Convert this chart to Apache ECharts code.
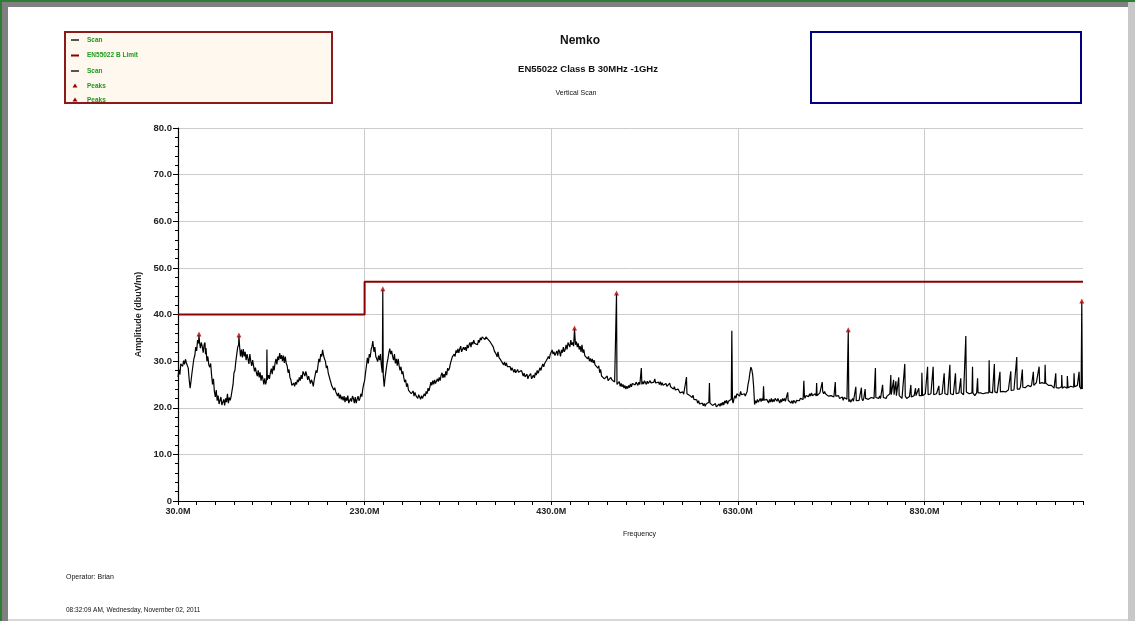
<!DOCTYPE html>
<html><head><meta charset="utf-8">
<script src="https://cdn.jsdelivr.net/npm/echarts@6/dist/echarts.min.js"></script>
<style>html,body{margin:0;padding:0;background:#fff}#c{width:1135px;height:621px}</style>
</head><body><div id="c"></div>
<script>
const FONT = "'Liberation Sans', Arial, sans-serif";
const scan = [
[30,26.6],[31,28.2],[32,27.1],[33,29.4],[34,29.8],[35,28.9],[36,30.1],[37,29.3],[38,30.4],[39,29.6],[40,30.0],[41,28.5],[42,26.0],[43,24.2],[44,25.8],[45,27.5],[46,29.0],[47,30.5],[48,31.2],[49,33.0],[50,32.2],[51,34.5],[52,33.8],[52.5,35.6],[53,34.2],[54,32.8],[55,34.0],[56,33.1],[57,31.8],[58,33.5],[58.9,34.0],[59.5,31.5],[60,32.8],[61,30.0],[62,31.0],[63,29.2],[64,28.7],[65,29.5],[66,27.0],[67,25.0],[68,26.2],[69,23.5],[70,22.3],[71,23.8],[72,21.5],[73,22.6],[74,20.8],[75,20.4],[76,22.3],[77,20.6],[78,20.2],[79,21.8],[80,20.5],[81,22.0],[82,21.2],[83,23.0],[84,21.0],[85,22.2],[86,21.6],[87,22.5],[88,23.8],[89,25.0],[90,27.5],[91,28.0],[92,30.0],[93,31.5],[94,33.0],[95,33.5],[95.3,35.4],[96,33.2],[97,31.0],[98,32.5],[99,30.8],[100,32.6],[101,31.0],[102,32.0],[103,30.2],[104,31.5],[105,30.5],[106,29.4],[107,31.5],[108,30.0],[109,29.0],[110,30.2],[111,29.0],[112,27.8],[113,28.6],[114,27.5],[115,26.8],[116,28.0],[117,26.5],[118,27.6],[119,25.8],[120,27.0],[121,26.2],[122,25.0],[123,26.3],[124,25.0],[125,26.0],[125.3,32.5],[125.7,26.0],[127,27.0],[128,26.2],[129,27.5],[130,28.4],[131,27.2],[132,29.0],[133,28.0],[134,29.5],[135,30.5],[136,29.3],[137,31.0],[138,30.2],[139,31.7],[140,30.5],[141,31.3],[142,30.0],[143,31.2],[144,29.6],[145,31.0],[146,29.5],[147,29.0],[148,27.5],[149,28.2],[150,26.5],[151,26.0],[152,24.8],[153,24.5],[154,25.3],[155,24.6],[156,25.5],[157,25.0],[158,26.0],[159,25.5],[160,26.5],[161,25.8],[162,27.0],[163,26.2],[164,27.8],[165,27.5],[166,26.8],[167,27.8],[168,27.0],[169,26.0],[170,26.8],[171,26.0],[172,25.2],[173,26.0],[174,25.5],[175,24.6],[176,26.0],[177,27.0],[178,28.0],[179,27.5],[180,29.0],[181,30.5],[182,29.8],[183,31.5],[184,31.0],[185,32.4],[186,31.2],[187,30.5],[188,30.0],[189,28.5],[190,29.0],[191,27.5],[192,27.5],[193,26.0],[194,25.8],[195,24.6],[196,25.0],[197,23.8],[198,24.3],[199,23.5],[200,23.0],[201,22.5],[202,23.2],[203,22.0],[204,22.8],[205,21.8],[206,22.4],[207,21.6],[208,22.5],[209,21.2],[210,22.2],[211,21.5],[212,22.6],[213,21.0],[214,20.9],[215,22.0],[216,21.3],[217,22.5],[218,22.0],[219,21.0],[220,22.3],[221,21.0],[222,21.8],[223,22.5],[224,21.5],[225,22.0],[226,23.0],[227,22.4],[228,24.0],[229,25.0],[230,25.8],
[231,27.5],[232,29.0],[233,30.7],[234,29.5],[235,31.5],[236,30.8],[237,32.5],[238,33.2],[238.8,34.3],[240,32.0],[241,33.0],[242,31.0],[243,30.5],[244,29.9],[245,31.2],[246,30.2],[247,31.5],[248,29.0],[249,27.5],[249.5,45.3],[250,27.0],[251,24.5],[252,26.5],[253,28.0],[254,29.5],[255,30.5],[256,31.8],[257,32.7],[258,31.5],[259,32.2],[260,31.0],[261,30.2],[262,31.5],[263,29.5],[264,30.5],[265,29.0],[266,30.5],[267,29.0],[268,28.0],[269,28.8],[270,27.2],[271,27.8],[272,26.5],[273,25.5],[274,26.0],[275,24.5],[276,25.2],[277,23.8],[278,23.5],[279,24.2],[280,23.0],[281,22.8],[282,23.6],[283,22.5],[284,23.3],[285,22.6],[286,23.0],[287,22.0],[288,22.8],[289,22.3],[290,21.8],[291,22.6],[292,22.0],[293,22.0],[294,23.0],[295,22.5],[296,23.5],[297,23.0],[298,24.2],[299,23.6],[300,24.5],[301,25.5],[302,24.8],[303,25.8],[304,25.0],[305,26.0],[306,25.2],[307,25.0],[308,26.2],[309,25.6],[310,26.5],[311,25.8],[312,27.0],[313,27.5],[314,26.4],[315,27.2],[316,26.5],[317,27.8],[318,27.0],[319,28.5],[320,28.0],[321,28.5],[322,29.5],[323,30.2],[324,30.9],[325,30.5],[326,31.5],[327,31.0],[328,32.3],[329,31.8],[330,32.6],[331,31.8],[332,32.6],[333,33.2],[334,32.0],[335,32.0],[336,33.0],[337,32.4],[338,33.0],[339,32.2],[340,33.5],[341,32.8],[342,33.5],[343,34.0],[344,33.0],[345,34.1],[346,33.6],[347,34.5],[348,33.8],[349,33.5],[350,34.2],[351,33.5],[352,34.5],[353,34.0],[354,35.0],[355,34.5],[356,35.2],[357,35.0],[358,35.3],[359,34.6],[360,35.2],[361,35.6],[362,35.0],[363,34.5],[364,34.8],[365,34.0],[366,33.6],[367,33.7],[368,33.0],[369,32.2],[370,32.5],[371,31.5],[372,30.9],[373,32.0],[374,30.8],[375,30.9],[376,30.2],[377,30.5],[378,30.0],[379,29.2],[380,29.8],[381,29.0],[382,29.6],[383,28.8],[384,29.2],[385,28.5],[386,28.8],[387,28.0],[388,28.6],[389,28.2],[390,27.6],[391,28.3],[392,27.5],[393,27.5],[394,28.2],[395,27.6],[396,28.0],[397,27.2],[398,28.0],[399,27.5],[400,26.8],[401,27.4],[402,26.6],[403,26.5],[404,27.2],[405,26.2],[406,26.8],[407,26.5],[408,27.3],[409,26.2],[410,26.6],[411,27.0],[412,26.4],[413,27.5],[414,27.0],[415,28.0],[416,27.4],[417,28.0],[418,28.6],[419,28.0],[420,28.8],[421,29.4],[422,28.8],[423,29.5],[424,29.5],[425,30.2],[426,30.2],[427,31.0],[428,30.5],[429,31.5],[430,31.2],[431,32.4],[432,31.5],[433,32.0],[434,31.2],[435,31.5],[436,32.2],[437,31.2],[438,32.5],[439,32.0],[440,31.0],[441,32.4],[442,31.8],[443,33.0],[444,32.0],[445,32.5],[446,33.5],[447,32.5],[448,34.0],[449,33.7],[450,33.0],[451,34.5],[452,33.5],[453,34.0],[454,33.2],[455,36.9],[456,33.5],[457,34.2],[458,33.0],[459,33.8],[460,32.5],[461,33.2],[462,32.0],[463,33.5],[464,31.8],[465,32.5],[466,31.2],[467,30.9],[468,31.5],[469,30.5],[470,31.0],[471,30.0],[472,30.6],[473,29.8],[474,30.5],[475,29.6],[476,30.2],[477,29.2],[478,29.6],[479,28.8],[480,28.5],[481,29.0],[482,27.5],[483,28.2],[484,26.8],[485,26.6],[486,27.2],[487,26.2],[488,26.6],[489,26.0],[490,26.8],[491,25.8],[492,26.2],[493,25.8],[494,26.5],[495,26.0],[496,25.6],[497,26.2],[498,25.5],[499.5,25.5],[500,44.4],[500.5,25.0],
[502,24.9],[503,25.6],[504,24.6],[505,25.2],[506,24.5],[507,25.0],[508,24.2],[509,24.8],[510,24.0],[511,24.6],[512,24.1],[513,24.8],[514,24.3],[515,25.1],[516,24.5],[517,25.2],[518,24.8],[519,25.6],[520,24.9],[521,25.5],[522,25.2],[523,24.8],[524,25.5],[525,25.0],[526,25.4],[526.6,28.5],[527.2,25.0],[528,25.6],[529,25.1],[530,25.8],[531,25.4],[532,25.0],[533,25.7],[534,25.2],[535,25.0],[536,25.8],[537,25.3],[538,25.6],[539,25.0],[540,25.5],[541,26.2],[542,25.3],[543,25.7],[544,25.0],[545,25.5],[546,25.0],[547,25.6],[548,24.8],[549,25.4],[550,24.8],[551,25.0],[552,24.4],[553,25.2],[554,24.6],[555,25.0],[556,24.5],[557,25.3],[558,24.5],[559,24.8],[560,24.3],[561,24.0],[562,24.5],[563,23.8],[564,24.2],[565,23.6],[566,24.0],[567,23.6],[568,23.2],[569,23.6],[570,23.0],[571,23.4],[572,22.9],[573,23.0],[574,22.8],[575,26.6],[575.5,23.0],[576,22.6],[577,23.0],[578,22.7],[579,22.4],[580,22.9],[581,22.2],[582,22.7],[583,21.8],[584,22.2],[585,21.5],[586,21.7],[587,21.0],[588,21.5],[589,20.8],[590,21.2],[591,20.5],[592,21.0],[593,20.4],[594,20.9],[595,20.3],[596,20.8],[597,20.5],[598,21.0],[599,21.2],[599.6,25.3],[600.2,21.0],[601,20.6],[602,21.2],[603,20.5],[604,20.8],[605,20.2],[606,20.9],[607,20.2],[608,19.8],[609,20.6],[610,20.8],[611,20.3],[612,21.0],[613,20.5],[614,21.2],[615,20.6],[616,21.5],[617,21.0],[618,21.6],[619,20.8],[620,21.4],[621,21.0],[622,21.5],[623,21.8],[623.6,36.5],[624.3,21.5],[625,21.0],[626,22.0],[627,22.6],[628,22.0],[629,23.0],[630,22.6],[631,23.2],[632,22.5],[633,23.5],[634,22.8],[635,23.2],[636,22.5],[637,23.0],[638,22.5],[639,23.0],[640,23.5],[641,25.0],[642,26.0],[643,27.5],[644,28.7],[645,28.2],[646,27.0],[647,24.5],[648,20.7],[649,21.5],[650,21.0],[651,21.8],[652,21.2],[653,21.5],[654,22.0],[655,21.3],[656,22.0],[657,21.5],[657.6,24.6],[658.2,21.6],[659,22.0],[660,21.2],[661,21.8],[662,21.4],[663,21.0],[664,21.8],[665,21.2],[666,22.0],[667,21.2],[668,21.8],[669,21.3],[670,22.0],[671,21.8],[672,21.4],[673,22.0],[674,21.5],[675,21.0],[676,21.8],[677,21.2],[678,22.0],[679,21.5],[680,22.0],[681,21.4],[682,21.8],[683,21.5],[683.5,23.3],[684,21.6],[685,21.2],[686,21.8],[687,21.0],[688,21.5],[689,20.9],[690,21.6],[691,21.2],[692,21.0],[693,21.6],[694,21.2],[695,21.8],[696,21.5],[697,22.0],[698,21.6],[699,22.2],[700,21.8],[700.8,25.8],[701.4,22.5],[702,22.0],[703,22.6],[704,22.2],[705,23.0],[706,22.4],[707,23.0],[708,22.5],[709,23.2],[710,22.6],[711,23.0],[712,22.4],[713,23.0],[714,22.5],[714.5,25.3],[715,22.6],[716,23.0],[717,22.4],[718,23.2],[719,22.8],[720,23.5],[720.5,25.5],[721,23.5],[722,23.0],[723,23.5],[724,23.0],[725,22.6],[726,23.2],[727,22.5],[728,22.8],[729,22.2],[730,22.6],[731,22.5],[732,23.0],[733,22.3],[734,22.6],[734.5,25.5],[735,22.5],[736,22.8],[737,22.2],[738,22.6],[739,22.0],[740,22.4],[741,21.8],[742,22.3],[743,21.6],[744,22.2],[745,22.0],[746,22.5],[747,21.8],[748.4,36.5],[749,21.3],[750,21.8],[751,21.2],[752,21.6],[753,22.0],[754,21.4],[755,21.6],[756,21.2],[756.5,24.5],[757,21.5],[758,21.8],[759,21.2],[760,21.6],[761,22.0],[762,21.8],[762.5,24.3],[763,22.0],[764,21.5],[765,22.0],[766,21.8],[766.5,24.0],[767,22.0],[768,21.6],[769,22.2],[770,21.8],[771,22.0],[772,21.6],[773,22.2],[774,22.0],[775,22.3],[776,22.0],[777,22.0],[777.5,28.5],[778,22.2],[779,21.8],[780,22.4],[781,22.0],[782,22.5],[783,22.0],[784,22.4],[785,22.1],[785.2,24.9],[786,22.2],[787,21.8],[788,22.3],[789,22.0],[790,22.5],[791,22.2],[792,22.6],[793,23.0],[794,27.0],[794.5,22.8],[795,22.6],[796,23.0],[797,26.0],[797.5,22.8],[798,23.0],[799,22.5],[799.5,25.7],[800,22.6],[801,23.0],[802,22.5],[802.5,26.5],[803,22.6],[804,22.2],[805,22.5],[806,22.0],[807,22.4],[808,22.3],[809,29.4],[809.5,22.5],[810,22.3],[811,22.0],[812,22.4],[813,22.0],[814,22.4],[815,22.0],[815.5,24.9],[816,22.3],[817,22.6],[818,22.2],[819,22.6],[820,22.8],[820.5,24.2],[821,22.6],[822,22.8],[823,22.6],[824,24.2],[824.5,22.6],[825,22.8],[826,22.5],[827,22.6],[827.3,27.5],[828,22.6],[829,22.8],[830,22.5],[831,23.0],[832,22.6],[833,22.8],[833.4,28.8],[834,22.8],[835,23.0],[836,22.6],[837,23.0],[838,22.6],[839,22.8],[839.4,28.8],[840,22.8],[841,23.0],[842,22.6],[843,23.0],[844,22.8],[845,23.0],[845.5,24.7],[846,22.8],[847,23.0],[848,22.7],[849,23.0],[850,22.8],[851,23.0],[851.2,27.4],[852,23.0],[853,22.7],[854,23.2],[855,22.8],[856,23.0],[857,22.9],[857.3,29.2],[858,23.0],[859,22.6],[860,23.2],[861,22.8],[862,23.0],[863,23.2],[863.3,27.4],[864,23.0],[865,23.3],[866,22.8],[867,23.2],[868,22.8],[869,26.3],[869.5,23.2],[870,23.0],[871,23.4],[872,22.8],[873,23.2],[874,23.0],[874.4,35.4],[875,23.4],[876,23.0],[877,23.5],[878,23.0],[879,22.8],[880,23.0],[881,23.2],[881.6,28.8],[882,23.2],[883,23.0],[884,22.6],[885,23.0],[886,23.2],[887,26.3],[887.5,23.2],[888,23.0],[889,22.8],[890,23.2],[891,23.0],[892,23.4],[893,23.0],[894,23.2],[895,22.8],[896,23.2],[897,23.0],[898,23.3],[899,23.2],[899.4,30.2],[900,23.4],[901,23.1],[902,23.5],[903,23.2],[904,23.6],[905,29.4],[905.5,23.4],[906,23.2],[907,23.6],[908,23.2],[909,23.6],[910,23.3],[911,27.7],[911.5,23.4],[912,23.6],[913,23.2],[914,23.5],[915,23.3],[916,23.8],[917,23.4],[918,23.6],[919,23.4],[920,23.8],[921,23.5],[922,23.8],[922.6,27.8],[923,23.7],[924,23.6],[925,24.0],[926,23.8],[927,24.2],[928,23.8],[929,30.9],[929.5,24.0],[930,23.8],[931,24.3],[932,24.0],[933,24.5],[934,24.2],[935,28.2],[935.5,24.4],[936,24.2],[937,24.6],[938,24.3],[939,24.5],[940,24.3],[941,24.8],[942,24.4],[943,24.8],[944,24.5],[945,25.0],[946,24.6],[946.8,27.7],[947.3,24.8],[948,25.2],[949,25.0],[950,25.4],[951,25.0],[952,25.3],[953,28.8],[953.5,25.2],[954,25.4],[955,25.0],[956,25.4],[957,25.2],[958,25.5],[959,25.2],[959.4,29.2],[960,25.3],[961,25.0],[962,25.4],[963,24.8],[964,25.0],[965,24.6],[966,24.8],[967,24.4],[968,24.8],[969,24.2],[970,24.6],[970.8,27.4],[971.3,24.3],[972,24.0],[973,24.5],[974,24.2],[975,24.6],[976,24.2],[977,24.5],[977.2,27.0],[977.8,24.2],[978,24.4],[979,24.0],[980,24.5],[981,24.2],[982,24.5],[983,24.2],[983.2,26.8],[984,24.3],[985,24.6],[986,24.2],[987,24.6],[988,24.4],[989,24.8],[990,24.4],[990.4,27.4],[991,24.5],[992,24.8],[993,24.5],[994,24.8],[995,24.4],[995.8,27.7],[996.4,24.5],[997,24.2],[998,24.0],[998.7,42.7],[999.3,24.0],[1000,24.0]
];
const limit = [[30,40],[230,40],[230,47],[1000,47]];
const peaks = [[52.5,35.6],[95.3,35.4],[249.5,45.3],[455,36.9],[500,44.4],[748.4,36.5],[998.7,42.7]];
const legendNames = ['Scan','EN55022 B Limit','Scan','Peaks','Peaks'];
const legendKinds = ['line','limit','line','peak','peak'];
const titleMain = 'Nemko';
const titleSub = 'EN55022 Class B 30MHz -1GHz';
const titleScan = 'Vertical Scan';
const yName = 'Amplitude (dbuV/m)';
const xName = 'Frequency';
const operatorText = 'Operator: Brian';
const dateText = '08:32:09 AM, Wednesday, November 02, 2011';

const chart = echarts.init(document.getElementById('c'), null, {renderer:'canvas'});

const legendGraphics = [];
legendGraphics.push({type:'rect', shape:{x:65,y:32,width:267,height:71}, style:{fill:'#fff8ee', stroke:'#8b1a1a', lineWidth:2}, z:10});
const legendYs = [40,55.5,71,86,100];
legendNames.forEach((n,i)=>{
  const y = legendYs[i];
  const k = legendKinds[i];
  if (k==='line' || k==='limit') {
    legendGraphics.push({type:'line', shape:{x1:71,y1:y,x2:79,y2:y}, style:{stroke: k==='limit' ? '#8b0000' : '#555', lineWidth: 2}, z:11});
  } else {
    legendGraphics.push({type:'polygon', shape:{points:[[75,y-2.5],[77.5,y+1.5],[72.5,y+1.5]]}, style:{fill:'#a00000'}, z:11});
  }
  legendGraphics.push({type:'text', x:87, y:y, style:{text:n, fill:'#1c9a1c', font:'bold 6.5px ' + FONT, textVerticalAlign:'middle'}, z:11});
});

const option = {
  backgroundColor:'#ffffff',
  animation:false,
  textStyle:{fontFamily:FONT},
  grid:{left:178, right:52, top:128, bottom:120, containLabel:false},
  xAxis:{
    type:'value', min:30, max:1000, interval:200,
    name:xName, nameLocation:'middle', nameGap:30,
    nameTextStyle:{fontSize:7, color:'#111', padding:[0,0,0,18]},
    axisLine:{show:true, onZero:false, lineStyle:{color:'#000', width:1.2}},
    axisTick:{show:true, length:4, lineStyle:{color:'#000'}},
    minorTick:{show:true, splitNumber:10, length:4, lineStyle:{color:'#000'}},
    axisLabel:{fontSize:9, fontWeight:'bold', color:'#222', margin:6, showMaxLabel:false, formatter:v=>v.toFixed(1)+'M'},
    splitLine:{show:true, showMinLine:false, showMaxLine:false, lineStyle:{color:'#cccccc', width:1}}
  },
  yAxis:{
    type:'value', min:0, max:80, interval:10,
    name:yName, nameLocation:'middle', nameGap:33, nameRotate:90,
    nameTextStyle:{fontSize:9, fontWeight:'bold', color:'#222'},
    axisLine:{show:true, onZero:false, lineStyle:{color:'#000', width:1.2}},
    axisTick:{show:true, length:5, lineStyle:{color:'#000'}},
    minorTick:{show:true, splitNumber:5, length:3, lineStyle:{color:'#000'}},
    axisLabel:{fontSize:9.5, fontWeight:'bold', color:'#222', margin:6, formatter:v=> v===0 ? '0' : v.toFixed(1)},
    splitLine:{show:true, showMinLine:false, lineStyle:{color:'#cccccc', width:1}}
  },
  title:[
    {text:titleMain, left:575, top:30, textAlign:'center', textStyle:{fontSize:12, fontWeight:'bold', color:'#111', fontFamily:FONT}},
    {text:titleSub, left:583, top:59, textAlign:'center', textStyle:{fontSize:9.5, fontWeight:'bold', color:'#111', fontFamily:FONT}},
    {text:titleScan, left:571, top:85, textAlign:'center', textStyle:{fontSize:7, fontWeight:'normal', color:'#111', fontFamily:FONT}}
  ],
  graphic:[
    {type:'rect', shape:{x:0,y:0,width:1135,height:2}, style:{fill:'#2e7d32'}, z:1},
    {type:'rect', shape:{x:2,y:2,width:1127,height:5}, style:{fill:'#808080'}, z:1},
    {type:'rect', shape:{x:0,y:0,width:2,height:621}, style:{fill:'#2e7d32'}, z:1},
    {type:'rect', shape:{x:2,y:2,width:6,height:619}, style:{fill:'#808080'}, z:1},
    {type:'rect', shape:{x:1128,y:2,width:7,height:619}, style:{fill:'#c8c8c8'}, z:1},
    {type:'rect', shape:{x:8,y:619,width:1120,height:2}, style:{fill:'#d8d8d8'}, z:1},
    ...legendGraphics,
    {type:'rect', shape:{x:811,y:32,width:270,height:71}, style:{fill:'#ffffff', stroke:'#000080', lineWidth:2}, z:10},
    {type:'text', x:66, y:577, style:{text:operatorText, fill:'#111', font:'7px ' + FONT, textVerticalAlign:'middle'}},
    {type:'text', x:66, y:610, style:{text:dateText, fill:'#111', font:'6.5px ' + FONT, textVerticalAlign:'middle'}}
  ],
  series:[
    {name:'Scan', type:'line', data:scan, showSymbol:false, symbol:'none', lineStyle:{color:'#000', width:1.2}, z:3, silent:true},
    {name:'EN55022 B Limit', type:'line', data:limit, showSymbol:false, symbol:'none', lineStyle:{color:'#8b0000', width:2}, z:4, silent:true},
    {name:'Peaks', type:'scatter', data:peaks, symbol:'triangle', symbolSize:5, symbolOffset:[0,-1], itemStyle:{color:'#b00000'}, z:5}
  ]
};
chart.setOption(option);
</script>
</body></html>
